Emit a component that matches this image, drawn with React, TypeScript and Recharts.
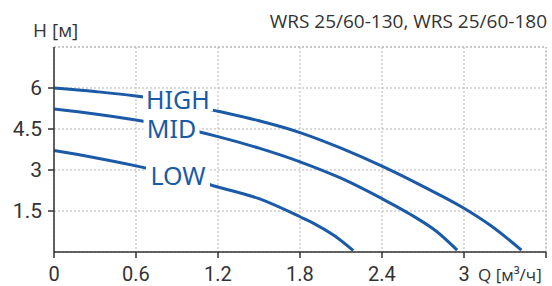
import { LineChart, Line, XAxis, YAxis, CartesianGrid, ReferenceLine, ReferenceDot } from 'recharts';

const qTicks = [0, 0.6, 1.2, 1.8, 2.4, 3, 3.6];
const hTicks = [1.5, 3, 4.5, 6];

const high = [
  { q: 0, h: 6.0 },
  { q: 0.3, h: 5.87 },
  { q: 0.6, h: 5.71 },
  { q: 0.9, h: 5.48 },
  { q: 1.2, h: 5.15 },
  { q: 1.5, h: 4.8 },
  { q: 1.8, h: 4.37 },
  { q: 2.1, h: 3.8 },
  { q: 2.4, h: 3.14 },
  { q: 2.7, h: 2.4 },
  { q: 3.0, h: 1.6 },
  { q: 3.2, h: 0.95 },
  { q: 3.42, h: 0.07 },
];

const mid = [
  { q: 0, h: 5.23 },
  { q: 0.3, h: 5.05 },
  { q: 0.6, h: 4.83 },
  { q: 0.9, h: 4.57 },
  { q: 1.2, h: 4.22 },
  { q: 1.5, h: 3.8 },
  { q: 1.8, h: 3.3 },
  { q: 2.1, h: 2.7 },
  { q: 2.4, h: 1.95 },
  { q: 2.6, h: 1.4 },
  { q: 2.8, h: 0.75 },
  { q: 2.95, h: 0.07 },
];

const low = [
  { q: 0, h: 3.71 },
  { q: 0.3, h: 3.45 },
  { q: 0.6, h: 3.15 },
  { q: 0.9, h: 2.8 },
  { q: 1.2, h: 2.38 },
  { q: 1.5, h: 1.95 },
  { q: 1.8, h: 1.29 },
  { q: 1.9, h: 1.05 },
  { q: 2.05, h: 0.6 },
  { q: 2.19, h: 0.05 },
];

const BLUE = '#1a5aa6';
const DARK = '#333333';

function curveLabel(text: string, w: number) {
  return (props: any) => (
    <g>
      <rect x={props.cx - w / 2} y={props.cy - 11} width={w} height={22} fill="#ffffff" />
      <text
        x={props.cx}
        y={props.cy + 9}
        textAnchor="middle"
        fill={BLUE}
        fontSize={25}
        fontFamily="Noto Sans"
      >
        {text}
      </text>
    </g>
  );
}

export default function App() {
  return (
    <div style={{ position: 'absolute', left: 0, top: 0, width: 552, height: 286, background: '#fff' }}>
      <LineChart width={552} height={286} margin={{ top: 47, right: 6, left: 0, bottom: 0 }}>
        <CartesianGrid stroke="#b5b5b5" strokeDasharray="2 2" />
        <XAxis
          type="number"
          dataKey="q"
          domain={[0, 3.6]}
          ticks={qTicks}
          height={34}
          tickSize={6}
          tickMargin={9}
          tickFormatter={(v: number) => (v === 3.6 ? '' : String(v))}
          stroke={DARK}
          strokeWidth={1.5}
          tick={{ fill: DARK, fontSize: 20, fontFamily: 'Roboto' }}
        />
        <YAxis
          type="number"
          domain={[0, 7.5]}
          ticks={hTicks}
          width={54}
          tickSize={6}
          tickMargin={6}
          stroke={DARK}
          strokeWidth={1.5}
          tick={{ fill: DARK, fontSize: 21, fontFamily: 'Roboto' }}
        />
        <ReferenceLine y={7.5} stroke="#b5b5b5" strokeDasharray="2 2" />
        <ReferenceLine x={3.6} stroke="#b5b5b5" strokeDasharray="2 2" />
        <Line data={high} dataKey="h" type="monotone" stroke={BLUE} strokeWidth={3} dot={false} isAnimationActive={false} />
        <Line data={mid} dataKey="h" type="monotone" stroke={BLUE} strokeWidth={3} dot={false} isAnimationActive={false} />
        <Line data={low} dataKey="h" type="monotone" stroke={BLUE} strokeWidth={3} dot={false} isAnimationActive={false} />
        <ReferenceDot x={0.907} y={5.56} shape={curveLabel('HIGH', 70)} />
        <ReferenceDot x={0.86} y={4.5} shape={curveLabel('MID', 56)} />
        <ReferenceDot x={0.907} y={2.78} shape={curveLabel('LOW', 64)} />
        <text x={33} y={37} fill={DARK} fontSize={19} fontFamily="Open Sans">H [м]</text>
        <text x={547} y={28} textAnchor="end" fill={DARK} fontSize={19} fontFamily="Open Sans">
          WRS 25/60-130, WRS 25/60-180
        </text>
        <text x={478} y={281} fill={DARK} fontSize={17} fontFamily="Open Sans">
          Q [м³/ч]
        </text>
      </LineChart>
    </div>
  );
}
